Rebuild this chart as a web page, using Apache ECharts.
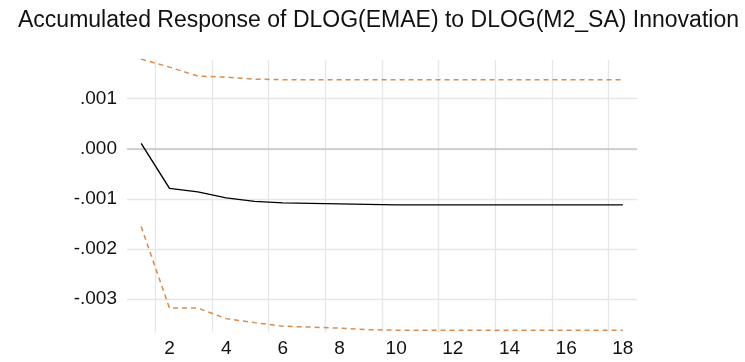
<!DOCTYPE html>
<html>
<head>
<meta charset="utf-8">
<script src="https://cdn.jsdelivr.net/npm/echarts@6/dist/echarts.min.js"></script>
<style>
  html, body { margin: 0; padding: 0; background: #ffffff; }
  #chart { width: 745px; height: 362px; }
</style>
</head>
<body>
<div id="chart"></div>
<script>
// Horizon (periods after the shock)
const periods = ['1', '2', '3', '4', '5', '6', '7', '8', '9', '10', '11', '12', '13', '14', '15', '16', '17', '18'];

// Accumulated impulse response
const response = [0.00011, -0.00079, -0.00086, -0.00098, -0.00105, -0.00108, -0.00109, -0.00110, -0.00111, -0.00112,
                  -0.00112, -0.00112, -0.00112, -0.00112, -0.00112, -0.00112, -0.00112, -0.00112];

// +/- 2 standard error bands
const upperBand = [0.00179, 0.00163, 0.00145, 0.00143, 0.00139, 0.00138, 0.00138, 0.00138, 0.00138, 0.00138,
                   0.00138, 0.00138, 0.00138, 0.00138, 0.00138, 0.00138, 0.00138, 0.00138];
const lowerBand = [-0.00155, -0.00318, -0.00318, -0.00339, -0.00347, -0.00354, -0.00356, -0.00358, -0.00361, -0.00362,
                   -0.00362, -0.00362, -0.00362, -0.00362, -0.00362, -0.00362, -0.00362, -0.00362];

// Vertical range of the plot
const yMin = -0.003667;
const yMax = 0.001772;

const FONT = '"Liberation Sans", Arial, sans-serif';

// ".001", ".000", "-.001" style labels
function fmtTick(v) {
  if (Math.abs(v) < 1e-9) return '.000';
  return v.toFixed(3).replace(/^(-?)0\./, '$1.');
}

const everyOther = function (idx) { return idx % 2 === 1; };

const chart = echarts.init(document.getElementById('chart'), null, { renderer: 'canvas' });

chart.setOption({
  backgroundColor: '#ffffff',
  animation: false,
  title: {
    text: 'Accumulated Response of DLOG(EMAE) to DLOG(M2_SA) Innovation',
    left: 13,
    top: 4,
    textStyle: { fontFamily: FONT, fontSize: 23, fontWeight: 'normal', color: '#111111' }
  },
  grid: { left: 127, right: 108, top: 60, bottom: 29.5, containLabel: false },
  xAxis: {
    type: 'category',
    data: periods,
    boundaryGap: true,
    axisLine: { show: false },
    axisTick: { show: false, interval: everyOther },
    axisLabel: {
      interval: everyOther,
      margin: 7,
      fontFamily: FONT,
      fontSize: 19,
      color: '#111111'
    },
    splitLine: {
      show: true,
      interval: everyOther,
      showMaxLine: false,
      lineStyle: { color: '#e6e6e6', width: 1.3 }
    }
  },
  yAxis: {
    type: 'value',
    min: yMin,
    max: yMax,
    splitNumber: 5,
    axisLine: { show: false },
    axisTick: { show: false },
    axisLabel: {
      margin: 10,
      showMinLabel: false,
      showMaxLabel: false,
      fontFamily: FONT,
      fontSize: 19,
      color: '#111111',
      formatter: fmtTick
    },
    splitLine: {
      show: true,
      showMinLine: false,
      showMaxLine: false,
      lineStyle: { color: '#e6e6e6', width: 1.3 }
    }
  },
  series: [
    {
      name: 'Response',
      type: 'line',
      data: response,
      symbol: 'none',
      clip: false,
      z: 4,
      lineStyle: { color: '#000000', width: 1.4 },
      markLine: {
        silent: true,
        symbol: 'none',
        label: { show: false },
        lineStyle: { color: '#c6c6c6', width: 1.6, type: 'solid' },
        data: [{ yAxis: 0 }],
        z: 1
      }
    },
    {
      name: 'Upper band',
      type: 'line',
      data: upperBand,
      symbol: 'none',
      clip: false,
      z: 3,
      lineStyle: { color: '#dc8a4e', width: 1.5, type: [5, 4] }
    },
    {
      name: 'Lower band',
      type: 'line',
      data: lowerBand,
      symbol: 'none',
      clip: false,
      z: 3,
      lineStyle: { color: '#dc8a4e', width: 1.5, type: [5, 4] }
    }
  ]
});
</script>
</body>
</html>
